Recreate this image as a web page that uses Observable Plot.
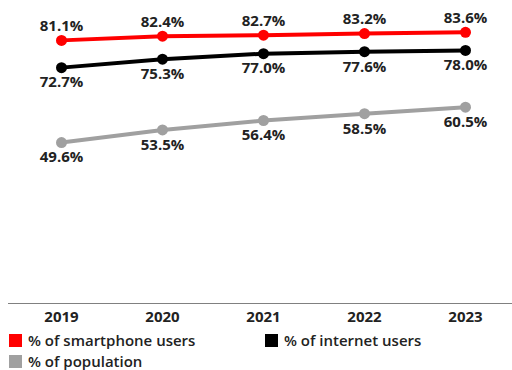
<!DOCTYPE html>
<html>
<head>
<meta charset="utf-8">
<script src="https://cdn.jsdelivr.net/npm/d3@7"></script>
<script src="https://cdn.jsdelivr.net/npm/@observablehq/plot@0.6"></script>
<style>
  html, body { margin: 0; padding: 0; background: #fff; }
  body { width: 512px; height: 370px; overflow: hidden; font-family: "Open Sans", sans-serif; }
  #legend { position: relative; height: 40px; font-size: 15px; font-weight: 600; color: #222; line-height: 15px; }
  .item { position: absolute; display: flex; align-items: center; gap: 6px; white-space: nowrap; }
  .sw { width: 13px; height: 13px; display: inline-block; }
</style>
</head>
<body>
<div id="chart"></div>
<div id="legend"></div>
<script>
const years = ["2019", "2020", "2021", "2022", "2023"];
const smartphoneUsers = [81.1, 82.4, 82.7, 83.2, 83.6];
const internetUsers = [72.7, 75.3, 77.0, 77.6, 78.0];
const population = [49.6, 53.5, 56.4, 58.5, 60.5];
const seriesNames = ["% of smartphone users", "% of internet users", "% of population"];
const seriesColors = ["#ff0000", "#000000", "#a0a0a0"];

const seriesValues = [smartphoneUsers, internetUsers, population];
const data = [];
seriesNames.forEach((s, i) => {
  years.forEach((y, j) => data.push({series: s, year: y, value: seriesValues[i][j], pos: i === 0 ? "above" : "below"}));
});

const plot = Plot.plot({
  width: 512,
  height: 330,
  marginTop: 11,
  marginBottom: 27,
  marginLeft: 8,
  marginRight: 0,
  style: {fontFamily: "'Open Sans', sans-serif", color: "#222"},
  x: {type: "point", domain: years, range: [60, 466], padding: 0, label: null},
  y: {domain: [0, 90], axis: null},
  color: {domain: seriesNames, range: seriesColors},
  marks: [
    Plot.ruleY([0], {stroke: "#808080", strokeWidth: 1.2}),
    Plot.axisX({tickSize: 0, tickPadding: 8, fontSize: 15, fontWeight: "bold", label: null}),
    Plot.line(data, {x: "year", y: "value", z: "series", stroke: "series", strokeWidth: 4}),
    Plot.dot(data, {x: "year", y: "value", fill: "series", r: 5.5}),
    Plot.text(data.filter(d => d.pos === "above"), {x: "year", y: "value", text: d => d.value.toFixed(1) + "%", dy: -14, fontSize: 15, fontWeight: "bold", fill: "#222"}),
    Plot.text(data.filter(d => d.pos === "below"), {x: "year", y: "value", text: d => d.value.toFixed(1) + "%", dy: 15, fontSize: 15, fontWeight: "bold", fill: "#222"})
  ]
});
document.getElementById("chart").appendChild(plot);

const legend = document.getElementById("legend");
const legendPos = [[9, 3], [265, 3], [9, 24]];
seriesNames.forEach((s, i) => {
  const it = document.createElement("div");
  it.className = "item";
  it.style.left = legendPos[i][0] + "px";
  it.style.top = legendPos[i][1] + "px";
  it.innerHTML = `<span class="sw" style="background:${seriesColors[i]}"></span><span>${s}</span>`;
  legend.appendChild(it);
});
</script>
</body>
</html>
